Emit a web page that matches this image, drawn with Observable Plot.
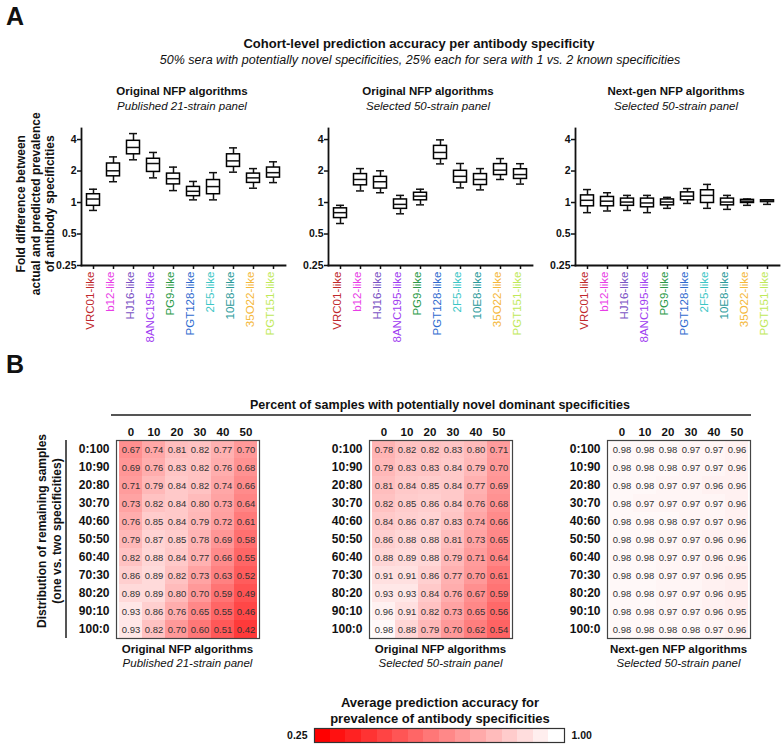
<!DOCTYPE html>
<html><head><meta charset="utf-8">
<script src="https://cdn.jsdelivr.net/npm/d3@7"></script>
<script src="https://cdn.jsdelivr.net/npm/@observablehq/plot@0.6"></script>
<style>
body{margin:0;background:#fff;}
#root{position:relative;width:784px;height:746px;overflow:hidden;font-family:"Liberation Sans",Arial,sans-serif;color:#111;background:#fff;}
.t{position:absolute;white-space:nowrap;line-height:1;transform:translate(-50%,-50%);text-align:center;}
.rot{position:absolute;text-align:center;font-weight:bold;transform:rotate(-90deg);white-space:nowrap;}
.plotwrap{position:absolute;}
</style></head><body><div id="root"></div>
<script>
// ---------- DATA ----------
const specificities = ["VRC01-like","b12-like","HJ16-like","8ANC195-like","PG9-like","PGT128-like","2F5-like","10E8-like","35O22-like","PGT151-like"];
const specColors = ["#c0282d","#e83de6","#7b52c4","#a03cf0","#2a9a48","#2f6bcf","#3cc6c6","#2a9a9a","#f5b83a","#bfe95a"];
const foldTicks = [0.25, 0.5, 1, 2, 4];
// box stats per specificity: [whisker low, Q1, median, Q3, whisker high]
const boxOrig21 = [[0.84,0.93,1.08,1.20,1.34],[1.58,1.78,2.01,2.36,2.73],[2.56,2.89,3.36,3.89,4.56],[1.72,1.96,2.36,2.62,3.01],[1.30,1.49,1.69,1.89,2.18],[1.06,1.15,1.28,1.41,1.59],[1.06,1.20,1.42,1.64,1.93],[1.95,2.19,2.50,2.89,3.33],[1.37,1.54,1.72,1.89,2.11],[1.55,1.73,1.93,2.16,2.45]];
const boxOrig50 = [[0.63,0.71,0.80,0.88,0.94],[1.29,1.46,1.66,1.87,2.11],[1.24,1.36,1.58,1.76,2.01],[0.78,0.87,0.96,1.07,1.17],[0.95,1.05,1.15,1.24,1.34],[2.34,2.60,3.01,3.48,3.97],[1.38,1.55,1.78,2.01,2.36],[1.32,1.47,1.66,1.87,2.11],[1.66,1.83,2.04,2.33,2.63],[1.50,1.68,1.85,2.08,2.35]];
const boxNext50 = [[0.80,0.92,1.05,1.17,1.33],[0.83,0.92,1.03,1.13,1.24],[0.84,0.93,1.01,1.09,1.17],[0.80,0.90,0.99,1.09,1.17],[0.88,0.94,1.01,1.07,1.12],[0.98,1.05,1.15,1.25,1.36],[0.88,0.99,1.17,1.31,1.49],[0.86,0.94,1.01,1.09,1.17],[0.94,0.99,1.03,1.06,1.08],[0.96,1.01,1.03,1.05,1.06]];

const novelPct = ["0","10","20","30","40","50"];
const distRows = ["0:100","10:90","20:80","30:70","40:60","50:50","60:40","70:30","80:20","90:10","100:0"];
const heatOrig21 = [
[0.67,0.74,0.81,0.82,0.77,0.70],[0.69,0.76,0.83,0.82,0.76,0.68],[0.71,0.79,0.84,0.82,0.74,0.66],[0.73,0.82,0.84,0.80,0.73,0.64],
[0.76,0.85,0.84,0.79,0.72,0.61],[0.79,0.87,0.85,0.78,0.69,0.58],[0.82,0.88,0.84,0.77,0.66,0.55],[0.86,0.89,0.82,0.73,0.63,0.52],
[0.89,0.89,0.80,0.70,0.59,0.49],[0.93,0.86,0.76,0.65,0.55,0.46],[0.93,0.82,0.70,0.60,0.51,0.42]];
const heatOrig50 = [
[0.78,0.82,0.82,0.83,0.80,0.71],[0.79,0.83,0.83,0.84,0.79,0.70],[0.81,0.84,0.85,0.84,0.77,0.69],[0.82,0.85,0.86,0.84,0.76,0.68],
[0.84,0.86,0.87,0.83,0.74,0.66],[0.86,0.88,0.88,0.81,0.73,0.65],[0.88,0.89,0.88,0.79,0.71,0.64],[0.91,0.91,0.86,0.77,0.70,0.61],
[0.93,0.93,0.84,0.76,0.67,0.59],[0.96,0.91,0.82,0.73,0.65,0.56],[0.98,0.88,0.79,0.70,0.62,0.54]];
const heatNext50 = [
[0.98,0.98,0.98,0.97,0.97,0.96],[0.98,0.98,0.98,0.97,0.97,0.96],[0.98,0.98,0.97,0.97,0.96,0.96],[0.98,0.97,0.97,0.97,0.97,0.96],
[0.98,0.98,0.98,0.97,0.97,0.96],[0.98,0.98,0.97,0.97,0.96,0.96],[0.98,0.98,0.97,0.97,0.96,0.96],[0.98,0.98,0.97,0.97,0.96,0.95],
[0.98,0.98,0.97,0.97,0.96,0.95],[0.98,0.98,0.97,0.97,0.96,0.95],[0.98,0.98,0.98,0.98,0.97,0.96]];
const accDomain = [0.25, 1];
const accRange = ["#ff0000", "#ffffff"];
const legendLabels = ["0.25", "1.00"];
const legendSteps = 16;

// ---------- LAYOUT HELPERS ----------
const root = document.getElementById("root");
const FONT = "Liberation Sans, Arial, sans-serif";
function txt(s, x, y, size, weight, style) {
  const d = document.createElement("div");
  d.className = "t"; d.textContent = s;
  d.style.left = x + "px"; d.style.top = y + "px";
  d.style.fontSize = size + "px"; d.style.fontWeight = weight || "normal";
  d.style.fontStyle = style || "normal";
  root.appendChild(d);
}
function rotTitle(lines, cx, cy, size, lh) {
  const W = 260, H = lines.length * lh;
  const d = document.createElement("div");
  d.className = "rot";
  d.style.width = W + "px"; d.style.height = H + "px";
  d.style.left = (cx - W / 2) + "px"; d.style.top = (cy - H / 2) + "px";
  d.style.fontSize = size + "px"; d.style.lineHeight = lh + "px";
  d.innerHTML = lines.map(l => `<div>${l}</div>`).join("");
  root.appendChild(d);
}
function place(el, left, top) {
  const w = document.createElement("div");
  w.className = "plotwrap"; w.style.left = left + "px"; w.style.top = top + "px";
  w.appendChild(el); root.appendChild(w);
}
function line(x1, y1, x2, y2) {
  const d = document.createElement("div");
  d.style.position = "absolute"; d.style.background = "#555";
  if (y1 === y2) { d.style.left = x1 + "px"; d.style.top = (y1 - 0.75) + "px"; d.style.width = (x2 - x1) + "px"; d.style.height = "1.5px"; }
  else { d.style.left = (x1 - 0.75) + "px"; d.style.top = y1 + "px"; d.style.width = "1.5px"; d.style.height = (y2 - y1) + "px"; }
  root.appendChild(d);
}

// ---------- PANEL A ----------
txt("A", 15, 16, 25, "bold");
txt("Cohort-level prediction accuracy per antibody specificity", 419, 43, 13, "bold");
txt("50% sera with potentially novel specificities, 25% each for sera with 1 vs. 2 known specificities", 420, 60, 12.5, "normal", "italic");
const panelTitles = [["Original NFP algorithms","Published 21-strain panel"],["Original NFP algorithms","Selected 50-strain panel"],["Next-gen NFP algorithms","Selected 50-strain panel"]];
[182, 428, 676].forEach((cx, i) => {
  txt(panelTitles[i][0], cx, 92, 11.5, "bold");
  txt(panelTitles[i][1], cx, 107, 11.5, "normal", "italic");
});
rotTitle(["Fold difference between","actual and predicted prevalence","of antibody specificities"], 36, 204, 12, 14.5);

function boxPanel(stats, marginLeft) {
  const data = stats.map((s, i) => ({cat: specificities[i], lo: s[0], q1: s[1], med: s[2], q3: s[3], hi: s[4]}));
  return Plot.plot({
    width: marginLeft + 204 + 3, height: 225,
    marginLeft, marginRight: 3, marginTop: 8, marginBottom: 80,
    style: {background: "transparent", fontFamily: FONT, color: "#111", overflow: "visible"},
    x: {domain: specificities, padding: 0, axis: null},
    y: {type: "log", domain: [0.25, 5.1], axis: null},
    color: {type: "identity"},
    marks: [
      Plot.ruleX(data, {x: "cat", y1: "lo", y2: "q1", strokeWidth: 1.5}),
      Plot.ruleX(data, {x: "cat", y1: "q3", y2: "hi", strokeWidth: 1.5}),
      Plot.tickY(data, {x: "cat", y: "lo", insetLeft: 6, insetRight: 6, strokeWidth: 1.5}),
      Plot.tickY(data, {x: "cat", y: "hi", insetLeft: 6, insetRight: 6, strokeWidth: 1.5}),
      Plot.barY(data, {x: "cat", y1: "q1", y2: "q3", fill: "white", stroke: "black", strokeWidth: 1.5, insetLeft: 3.5, insetRight: 3.5}),
      Plot.tickY(data, {x: "cat", y: "med", insetLeft: 3.5, insetRight: 3.5, strokeWidth: 1.5}),
      Plot.frame({anchor: "left", strokeWidth: 1.8}),
      Plot.frame({anchor: "bottom", strokeWidth: 1.8}),
      Plot.axisY({ticks: foldTicks, tickFormat: d => String(d), tickSize: 4, tickPadding: 1, strokeWidth: 1.5, fontSize: 10.5, fontWeight: "bold", label: null}),
      Plot.axisX({tickSize: 4, tickFormat: () => "", strokeWidth: 1.5, label: null}),
      Plot.text(specificities, {x: d => d, frameAnchor: "bottom", text: d => d, rotate: -90, textAnchor: "end", dy: 6, fontSize: 11.5, fill: (d, i) => specColors[i]})
    ]
  });
}
place(boxPanel(boxOrig21, 81), 0, 120);
place(boxPanel(boxOrig50, 40), 288, 120);
place(boxPanel(boxNext50, 40), 535, 120);

// ---------- PANEL B ----------
txt("B", 15, 364, 25, "bold");
txt("Percent of samples with potentially novel dominant specificities", 440, 405, 12.5, "bold");
line(111, 415, 751, 415);
line(66, 440, 66, 638);
rotTitle(["Distribution of remaining samples","(one vs. two specificities)"], 49.5, 531, 12, 15);

function heatPanel(matrix, marginLeft) {
  const data = distRows.flatMap((r, i) => novelPct.map((c, j) => ({row: r, col: c, v: matrix[i][j]})));
  return Plot.plot({
    width: marginLeft + 143 + 3, height: 60 + 198 + 3,
    marginLeft, marginRight: 3, marginTop: 60, marginBottom: 3,
    style: {background: "transparent", fontFamily: FONT, color: "#111", overflow: "visible"},
    x: {domain: novelPct, padding: 0, axis: null},
    y: {domain: distRows, padding: 0, axis: null},
    color: {type: "linear", domain: accDomain, range: accRange, interpolate: "rgb"},
    marks: [
      Plot.cell(data, {x: "col", y: "row", fill: "v", inset: 0, shapeRendering: "crispEdges"}),
      Plot.text(data, {x: "col", y: "row", text: d => d.v.toFixed(2), fontSize: 9.5, fill: "#333"}),
      Plot.frame({stroke: "#444", strokeWidth: 1.2}),
      Plot.axisX({anchor: "top", tickSize: 0, tickPadding: 5, fontSize: 11.5, fontWeight: "bold", label: null}),
      Plot.axisY({anchor: "left", tickSize: 0, tickPadding: 7, fontSize: 12, fontWeight: "bold", label: null})
    ]
  });
}
place(heatPanel(heatOrig21, 116), 0, 380);
place(heatPanel(heatOrig50, 60), 309, 380);
place(heatPanel(heatNext50, 60), 547, 380);
const heatTitles = [["Original NFP algorithms","Published 21-strain panel"],["Original NFP algorithms","Selected 50-strain panel"],["Next-gen NFP algorithms","Selected 50-strain panel"]];
[187.5, 440.5, 678.5].forEach((cx, i) => {
  txt(heatTitles[i][0], cx, 650, 11.5, "bold");
  txt(heatTitles[i][1], cx, 664, 11.5, "normal", "italic");
});

// ---------- LEGEND ----------
txt("Average prediction accuracy for", 440, 702, 13, "bold");
txt("prevalence of antibody specificities", 440, 718, 13, "bold");
const stepW = (accDomain[1] - accDomain[0]) / legendSteps;
const steps = d3.range(legendSteps).map(i => ({x1: accDomain[0] + i * stepW, x2: accDomain[0] + (i + 1) * stepW, v: accDomain[0] + i * (accDomain[1] - accDomain[0]) / (legendSteps - 1)}));
place(Plot.plot({
  width: 34 + 250 + 40, height: 18, marginLeft: 34, marginRight: 40, marginTop: 2, marginBottom: 2,
  style: {background: "transparent", fontFamily: FONT, color: "#111", overflow: "visible"},
  x: {domain: accDomain, axis: null},
  color: {type: "linear", domain: accDomain, range: accRange, interpolate: "rgb"},
  marks: [
    Plot.rect(steps, {x1: "x1", x2: "x2", fill: "v", shapeRendering: "crispEdges"}),
    Plot.frame({stroke: "#333", strokeWidth: 1.2}),
    Plot.text([legendLabels[0]], {frameAnchor: "left", text: d => d, dx: -7, textAnchor: "end", fontSize: 10.5, fontWeight: "bold"}),
    Plot.text([legendLabels[1]], {frameAnchor: "right", text: d => d, dx: 7, textAnchor: "start", fontSize: 10.5, fontWeight: "bold"})
  ]
}), 280, 726);
</script></body></html>
